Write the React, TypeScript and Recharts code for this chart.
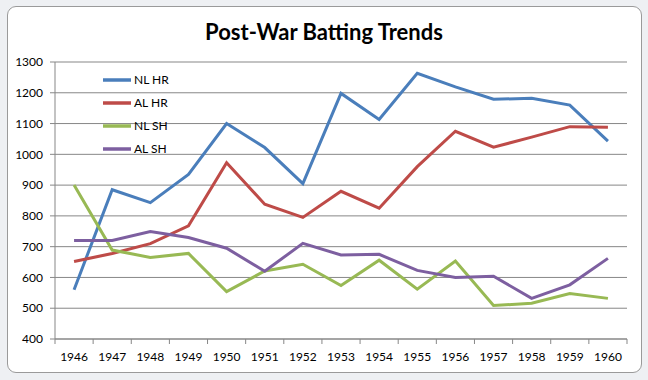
import { CartesianGrid, Legend, Line, LineChart, XAxis, YAxis } from 'recharts';

const years = [1946, 1947, 1948, 1949, 1950, 1951, 1952, 1953, 1954, 1955, 1956, 1957, 1958, 1959, 1960];
const nlHr = [560, 885, 843, 935, 1100, 1022, 905, 1198, 1113, 1263, 1219, 1179, 1182, 1160, 1043];
const alHr = [652, 678, 710, 768, 973, 838, 795, 880, 825, 960, 1075, 1023, 1056, 1090, 1088];
const nlSh = [900, 689, 665, 678, 554, 621, 643, 574, 656, 562, 653, 509, 516, 548, 532];
const alSh = [720, 720, 749, 730, 695, 620, 711, 673, 675, 623, 600, 604, 532, 576, 662];
const yTicks = [400, 500, 600, 700, 800, 900, 1000, 1100, 1200, 1300];

const series = [
  { key: 'nlHr', name: 'NL HR', color: '#4A7EBB' },
  { key: 'alHr', name: 'AL HR', color: '#BE4B48' },
  { key: 'nlSh', name: 'NL SH', color: '#98B954' },
  { key: 'alSh', name: 'AL SH', color: '#7D5FA0' },
];

const data = years.map((year, i) => ({
  year,
  nlHr: nlHr[i],
  alHr: alHr[i],
  nlSh: nlSh[i],
  alSh: alSh[i],
}));

const FONT = 'Lato, "Liberation Sans", sans-serif';
const GRID = '#878787';
const PLOT_LEFT = 55;
const PLOT_RIGHT = 627;
const band = (PLOT_RIGHT - PLOT_LEFT) / years.length;

function YearTick(props: any) {
  const { x, y, payload, index } = props;
  const last = index === years.length - 1;
  return (
    <g>
      <line x1={x - band / 2} x2={x - band / 2} y1={y} y2={y + 5} stroke={GRID} />
      {last && <line x1={x + band / 2} x2={x + band / 2} y1={y} y2={y + 5} stroke={GRID} />}
      <text x={x} y={y + 22} textAnchor="middle" fontSize={12} fontFamily={FONT} fill="#000">
        {payload.value}
      </text>
    </g>
  );
}

function LegendBox() {
  return (
    <div style={{ fontFamily: FONT, fontSize: 12 }}>
      {series.map((s) => (
        <div key={s.key} style={{ display: 'flex', alignItems: 'center', height: 23 }}>
          <svg width={29} height={8} style={{ marginRight: 2 }}>
            <line x1={0} x2={28} y1={4} y2={4} stroke={s.color} strokeWidth={3.5} />
          </svg>
          <span style={{ color: '#000' }}>{s.name}</span>
        </div>
      ))}
    </div>
  );
}

export default function App() {
  return (
    <div style={{ position: 'fixed', left: 0, top: 0, width: 648, height: 380, background: '#eef0f3' }}>
      <div
        style={{
          position: 'absolute',
          left: 7,
          top: 6,
          width: 633,
          height: 365,
          background: '#fff',
          border: '1px solid #9a9a9a',
          borderRadius: 9,
        }}
      />
      <div
        style={{
          position: 'absolute',
          left: 0,
          top: 18,
          width: 648,
          textAlign: 'center',
          fontFamily: FONT,
          fontWeight: 700,
          fontSize: 22,
          color: '#000',
        }}
      >
        Post-War Batting Trends
      </div>
      <div style={{ position: 'absolute', left: 0, top: 0 }}>
        <LineChart width={648} height={380} data={data} margin={{ top: 62, right: 21, bottom: 11, left: 10 }}>
          <CartesianGrid vertical={false} stroke={GRID} />
          <XAxis
            dataKey="year"
            type="number"
            domain={[1945.5, 1960.5]}
            ticks={years}
            interval={0}
            height={30}
            tickLine={false}
            tickSize={0}
            tickMargin={0}
            axisLine={{ stroke: GRID }}
            tick={<YearTick />}
          />
          <YAxis
            width={45}
            domain={[400, 1300]}
            ticks={yTicks}
            interval={0}
            tickSize={5}
            tickMargin={7}
            axisLine={{ stroke: GRID }}
            tickLine={{ stroke: GRID }}
            tick={{ fill: '#000', fontSize: 12, fontFamily: FONT }}
          />
          <Legend
            layout="vertical"
            align="center"
            verticalAlign="middle"
            wrapperStyle={{ left: 103, top: 68, width: 90, height: 92 }}
            content={<LegendBox />}
          />
          {series.map((s) => (
            <Line
              key={s.key}
              dataKey={s.key}
              name={s.name}
              stroke={s.color}
              strokeWidth={3}
              dot={false}
              activeDot={false}
              isAnimationActive={false}
            />
          ))}
        </LineChart>
      </div>
    </div>
  );
}
